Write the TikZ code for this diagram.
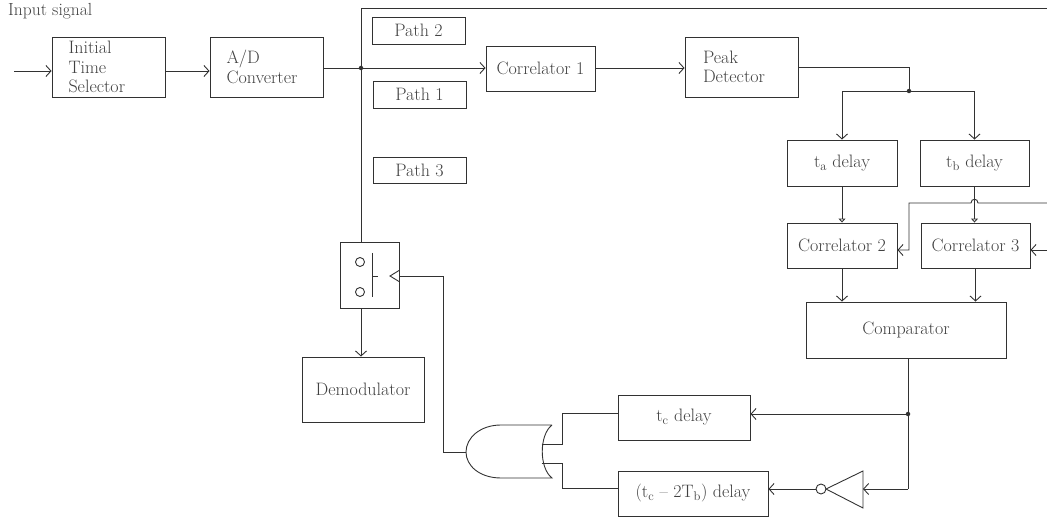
\documentclass[tikz,border=0pt]{standalone}
\usepackage{fontspec}
\usetikzlibrary{arrows.meta}
\definecolor{ln}{RGB}{50,50,50}
\definecolor{tx}{RGB}{65,65,65}
\tikzset{
 every node/.style={font=\fontsize{18}{19.5}\selectfont, text=tx},
 box/.style={draw=ln, line width=0.9pt, rectangle, inner sep=0pt, align=center},
 lbox/.style={box, align=left, text width=80pt, inner xsep=16.5pt, minimum width=113pt},
 wire/.style={draw=ln, line width=0.9pt},
 arr/.style={wire, -{Straight Barb[length=5pt,width=11pt]}},
 tarr/.style={wire, -{Triangle[open,length=4pt,width=7pt]}},
 dot/.style={circle, fill=ln, inner sep=0pt, minimum size=4.5pt},
 contact/.style={circle, draw=ln, line width=0.9pt, inner sep=0pt, minimum size=9pt},
}
\begin{document}
\begin{tikzpicture}[x=1pt,y=-1pt]
\useasboundingbox (0,0) rectangle (1047,518);

% text label
\node[anchor=base west, inner sep=0pt, font=\fontsize{17.5}{19.5}\selectfont] (sig) at (8,16) {Input signal};

% boxes
\node[lbox, minimum height=60pt] (its) at (108.5,67) {Initial\\Time\\Selector};
\node[lbox, minimum height=60pt] (adc) at (266.5,67) {A/D\\Converter};
\node[lbox, minimum height=60pt, inner xsep=18pt, text width=77pt] (peak) at (741.5,67) {Peak\\Detector};
\node[box, minimum width=93pt, minimum height=27pt] (p2) at (418.5,30.5) {Path 2};
\node[box, minimum width=93pt, minimum height=27pt] (p1) at (419.5,94.5) {Path 1};
\node[box, minimum width=93pt, minimum height=26pt] (p3) at (419.5,170) {Path 3};
\node[box, minimum width=109pt, minimum height=45pt] (corr1) at (540.5,68.5) {Correlator 1};
\node[box, minimum width=110pt, minimum height=46pt] (ta) at (842,163) {t\textsubscript{a} delay};
\node[box, minimum width=109pt, minimum height=46pt] (tb) at (974.5,163) {t\textsubscript{b} delay};
\node[box, minimum width=110pt, minimum height=45pt] (corr2) at (842,245.5) {Correlator 2};
\node[box, minimum width=109pt, minimum height=45pt] (corr3) at (975.5,245.5) {Correlator 3};
\node[box, minimum width=200pt, minimum height=56pt] (comp) at (906,330) {Comparator};
\node[box, minimum width=132pt, minimum height=45pt] (tcd) at (684,417.5) {t\textsubscript{c} delay};
\node[box, minimum width=150pt, minimum height=45pt] (tc2) at (693,493.5) {(t\textsubscript{c} \textendash{} 2T\textsubscript{b}) delay};
\node[box, minimum width=59pt, minimum height=66pt] (sw) at (369.5,275) {};
\node[box, minimum width=122pt, minimum height=65pt] (demod) at (363,389.5) {Demodulator};

% switch symbol
\node[contact] (c1) at (360,262) {};
\node[contact] (c2) at (360,292) {};
\coordinate (bar1) at (372,253);
\coordinate (bar2) at (372,297);
\coordinate (stub1) at (372,276);
\coordinate (stub2) at (378,276);
\draw[wire] (bar1) -- (bar2);
\draw[wire] (stub1) -- (stub2);
\coordinate (chv1) at (399,270.5);
\coordinate (chvt) at (390,276);
\coordinate (chv2) at (399,281.5);
\draw[wire] (chv1) -- (chvt) -- (chv2);

% input chain
\coordinate (in) at (14,71);
\coordinate (y71) at (0,71);
\draw[arr] (in) -- (in -| its.west);
\draw[arr] (its.east |- y71) -- (adc.west |- y71);
\coordinate (jn) at (361,68);
\draw[wire] (adc.east |- jn) -- (jn);
\node[dot] (jnd) at (jn) {};
\draw[arr] (jn) -- (jn -| corr1.west);
\draw[arr] (corr1.east |- jn) -- (jn -| peak.west);

% frame line
\coordinate (ftop) at (361,8);
\coordinate (fend) at (1047,8);
\draw[wire] (jn |- sw.north) -- (ftop) -- (fend);
\draw[arr] (jn |- sw.south) -- (jn |- demod.north);

% peak detector split
\coordinate (pk) at (909,67);
\coordinate (pj) at (909,91);
\draw[wire] (peak.east |- pk) -- (pk) -- (pj);
\draw[arr] (pj) -| (ta.north);
\draw[arr] (pj) -| (tb.north);
\node[dot] (pjd) at (pj) {};

\draw[tarr] (ta.south) -- (ta.south |- corr2.north);
\draw[tarr] (tb.south) -- (tb.south |- corr3.north);

% right side inputs
\coordinate (r1) at (1047,203);
\coordinate (h1) at (978,203);
\coordinate (h2) at (971,203);
\coordinate (r1b) at (909,203);
\coordinate (r1c) at (909,250);
\draw[arr] (r1) -- (h1) .. controls (978,198) and (971,198) .. (h2) -- (r1b) -- (r1c) -- (r1c -| corr2.east);
\coordinate (r2) at (1047,250);
\draw[arr] (r2) -- (r2 -| corr3.east);

\draw[arr] (corr2.south) -- (corr2.south |- comp.north);
\draw[arr] (corr3.south) -- (corr3.south |- comp.north);

% comparator output
\coordinate (cj) at (908,414);
\coordinate (cb) at (908,489);
\draw[wire] (cj |- comp.south) -- (cj) -- (cb);
\node[dot] (cjd) at (cj) {};
\draw[arr] (cj) -- (cj -| tcd.east);

% inverter
\coordinate (inv1) at (863,471);
\coordinate (inv2) at (863,508);
\coordinate (invt) at (826,489);
\draw[wire] (inv1) -- (inv2) -- (invt) -- cycle;
\node[contact, minimum size=10pt] (bub) at (821,489) {};
\draw[arr] (cb) -- (cb -| inv1);
\draw[arr] (bub.west) -- (bub.west -| tc2.east);

% OR gate
\coordinate (gt) at (552,425);
\coordinate (gb) at (552,478);
\coordinate (gout) at (466,452);
\draw[wire] (gt) -- (501,425) .. controls (480,425) and (466,438) .. (gout)
  .. controls (466,466) and (480,478) .. (501,478) -- (gb)
  .. controls (539,468) and (539,435) .. (gt);
\coordinate (g1) at (541.5,444);
\coordinate (g1b) at (562,444);
\coordinate (g1c) at (562,413);
\draw[wire] (g1) -- (g1b) -- (g1c) -- (g1c -| tcd.west);
\coordinate (g2) at (541.5,463);
\coordinate (g2b) at (562,463);
\coordinate (g2c) at (562,488);
\draw[wire] (g2) -- (g2b) -- (g2c) -- (g2c -| tc2.west);
\coordinate (gl) at (443,452);
\coordinate (so) at (443,276);
\draw[wire] (gout) -- (gl) -- (so) -- (so -| sw.east);
\end{tikzpicture}
\end{document}
